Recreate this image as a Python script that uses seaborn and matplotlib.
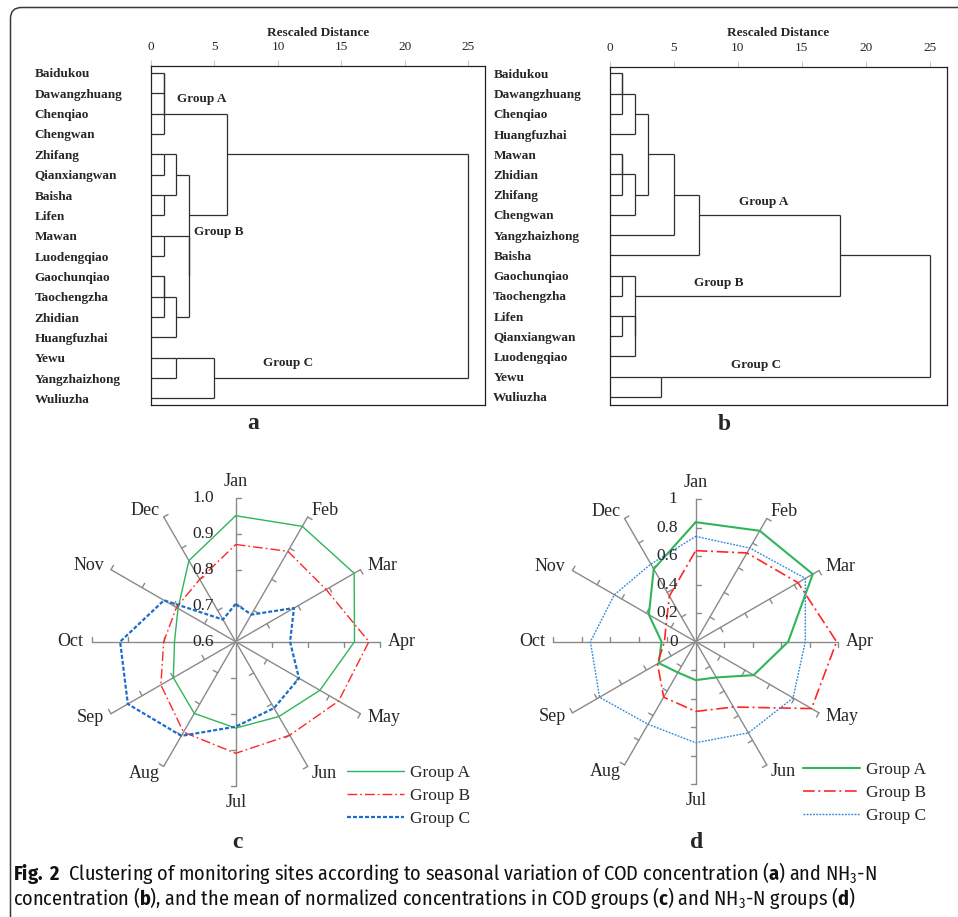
import numpy as np
import pandas as pd
import matplotlib
matplotlib.use('Agg')
import matplotlib.pyplot as plt
import seaborn as sns
from matplotlib import font_manager
from matplotlib.patches import FancyBboxPatch
from matplotlib.transforms import IdentityTransform

W, H = 958, 917

# ---- dendrogram a (COD) ----
leaves_cod = ['Baidukou', 'Dawangzhuang', 'Chenqiao', 'Chengwan', 'Zhifang', 'Qianxiangwan',
              'Baisha', 'Lifen', 'Mawan', 'Luodengqiao', 'Gaochunqiao', 'Taochengzha',
              'Zhidian', 'Huangfuzhai', 'Yewu', 'Yangzhaizhong', 'Wuliuzha']
# (child, child, rescaled distance) - an int refers to an earlier merge
merges_cod = [('Baidukou', 'Dawangzhuang', 1), (0, 'Chenqiao', 1), (1, 'Chengwan', 1),
              ('Zhifang', 'Qianxiangwan', 1), ('Baisha', 'Lifen', 1), (3, 4, 2),
              ('Mawan', 'Luodengqiao', 1), ('Gaochunqiao', 'Taochengzha', 1), (7, 'Zhidian', 1),
              (8, 'Huangfuzhai', 2), (6, 9, 3), (5, 10, 3), (2, 11, 6),
              ('Yewu', 'Yangzhaizhong', 2), (13, 'Wuliuzha', 5), (12, 14, 25)]

# ---- dendrogram b (NH3-N) ----
leaves_nh = ['Baidukou', 'Dawangzhuang', 'Chenqiao', 'Huangfuzhai', 'Mawan', 'Zhidian', 'Zhifang',
             'Chengwan', 'Yangzhaizhong', 'Baisha', 'Gaochunqiao', 'Taochengzha', 'Lifen',
             'Qianxiangwan', 'Luodengqiao', 'Yewu', 'Wuliuzha']
merges_nh = [('Baidukou', 'Dawangzhuang', 1), (0, 'Chenqiao', 1), (1, 'Huangfuzhai', 2),
             ('Mawan', 'Zhidian', 1), (3, 'Zhifang', 1), (4, 'Chengwan', 2), (2, 5, 3),
             (6, 'Yangzhaizhong', 5), (7, 'Baisha', 7),
             ('Gaochunqiao', 'Taochengzha', 1), ('Lifen', 'Qianxiangwan', 1), (10, 'Luodengqiao', 2),
             (9, 11, 2), (8, 12, 18), ('Yewu', 'Wuliuzha', 4), (13, 14, 25)]

dist_ticks = [0, 5, 10, 15, 20, 25]

# ---- radar data ----
months = ['Jan', 'Feb', 'Mar', 'Apr', 'May', 'Jun', 'Jul', 'Aug', 'Sep', 'Oct', 'Nov', 'Dec']
groups = ['Group A', 'Group B', 'Group C']

cod_a = [0.95, 0.97, 0.98, 0.93, 0.87, 0.84, 0.84, 0.83, 0.80, 0.77, 0.785, 0.86]
cod_b = [0.87, 0.89, 0.89, 0.97, 0.93, 0.90, 0.91, 0.89, 0.84, 0.80, 0.79, 0.80]
cod_c = [0.705, 0.687, 0.787, 0.751, 0.803, 0.813, 0.836, 0.902, 0.946, 0.921, 0.83, 0.671]
cod_ticks = [0.6, 0.7, 0.8, 0.9, 1.0]
cod_tick_labels = ['0.6', '0.7', '0.8', '0.9', '1.0']

nh_a = [0.84, 0.90, 0.95, 0.65, 0.47, 0.29, 0.27, 0.25, 0.30, 0.24, 0.38, 0.59]
nh_b = [0.64, 0.72, 0.83, 0.99, 0.94, 0.53, 0.49, 0.45, 0.31, 0.22, 0.24, 0.37]
nh_c = [0.74, 0.76, 0.89, 0.77, 0.79, 0.74, 0.71, 0.67, 0.78, 0.74, 0.66, 0.63]
nh_ticks = [0, 0.2, 0.4, 0.6, 0.8, 1.0]
nh_tick_labels = ['0', '0.2', '0.4', '0.6', '0.8', '1']

sns.set_style('white')
plt.rcParams['font.family'] = ['Liberation Serif', 'DejaVu Serif']

# caption font: a humanist sans with both regular and bold weights
weights = {}
for f in font_manager.fontManager.ttflist:
    if f.style == 'normal':
        weights.setdefault(f.name, set()).add(f.weight)
cap_font = 'DejaVu Sans'
for cand in ['Source Sans 3', 'Fira Sans Condensed', 'Roboto Condensed', 'PT Sans Narrow']:
    w = weights.get(cand, set())
    if any(x in w for x in (400, 'normal', 'regular')) and any(x in w for x in (700, 'bold')):
        cap_font = cand
        break
plt.rcParams['mathtext.fontset'] = 'custom'
plt.rcParams['mathtext.rm'] = cap_font
plt.rcParams['mathtext.bf'] = cap_font + ':bold'
plt.rcParams['mathtext.it'] = cap_font + ':italic'

fig = plt.figure(figsize=(W / 100, H / 100), dpi=100)


def rect(left, top, right, bottom):
    return [left / W, 1 - bottom / H, (right - left) / W, (bottom - top) / H]


line_col = '#2e2e2e'


def draw_dendrogram(ax, leaves, merges, ylim):
    nodes = []

    def info(c):
        if isinstance(c, str):
            return leaves.index(c), 0
        return nodes[c]

    for c1, c2, h in merges:
        (r1, h1), (r2, h2) = info(c1), info(c2)
        ax.hlines([r1, r2], [h1, h2], h, color=line_col, lw=0.9)
        ax.vlines(h, min(r1, r2), max(r1, r2), color=line_col, lw=0.9)
        nodes.append(((r1 + r2) // 2, h))

    ax.set_xlim(0, 26.3)
    ax.set_ylim(*ylim)
    ax.xaxis.tick_top()
    ax.xaxis.set_label_position('top')
    ax.set_xticks(dist_ticks)
    ax.set_xticklabels([str(t) for t in dist_ticks], fontsize=9.5)
    ax.set_xlabel('Rescaled Distance', fontsize=9.5, fontweight='bold', labelpad=4)
    ax.tick_params(axis='x', direction='out', length=4.5, width=0.8, color='#c8c8c8', pad=4.5)
    ax.set_yticks(range(len(leaves)))
    ax.set_yticklabels(leaves, fontsize=9.5, fontweight='bold', ha='left')
    ax.tick_params(axis='y', length=0, pad=83.7)
    for s in ax.spines.values():
        s.set_visible(True)
        s.set_color('#222222')
        s.set_linewidth(0.9)


ax_a = fig.add_axes(rect(151, 66, 485, 405))
draw_dendrogram(ax_a, leaves_cod, merges_cod, (16.32, -0.34))
ax_a.text(3.97, 1.28, 'Group A', fontsize=9.5, fontweight='bold', ha='center', va='center')
ax_a.text(5.3, 7.82, 'Group B', fontsize=9.5, fontweight='bold', ha='center', va='center')
ax_a.text(10.8, 14.26, 'Group C', fontsize=9.5, fontweight='bold', ha='center', va='center')

ax_b = fig.add_axes(rect(609.5, 66.5, 946.5, 405))
draw_dendrogram(ax_b, leaves_nh, merges_nh, (16.4, -0.34))
ax_b.text(12.0, 6.36, 'Group A', fontsize=9.5, fontweight='bold', ha='center', va='center')
ax_b.text(8.5, 10.37, 'Group B', fontsize=9.5, fontweight='bold', ha='center', va='center')
ax_b.text(11.4, 14.42, 'Group C', fontsize=9.5, fontweight='bold', ha='center', va='center')

spoke_col = '#8a8a8a'


def draw_radar(ax, series, styles, ticks, tick_labels, r_px, lab_dx, legend_xy):
    vmin, vmax = ticks[0], ticks[-1]
    theta = np.deg2rad(np.arange(12) * 30.0)
    sx, sy = np.sin(theta), np.cos(theta)
    tl = 5.0 / r_px
    for i in range(12):
        ax.plot([0, sx[i]], [0, sy[i]], color=spoke_col, lw=1.0, zorder=1)
        for v in ticks[1:]:
            u = (v - vmin) / (vmax - vmin)
            px, py = u * sx[i], u * sy[i]
            ax.plot([px, px + tl * np.cos(theta[i])], [py, py - tl * np.sin(theta[i])],
                    color=spoke_col, lw=1.0, zorder=1)
        off = 1 + 8.0 / r_px
        ha = 'left' if sx[i] > 0.2 else ('right' if sx[i] < -0.2 else 'center')
        va = 'bottom' if sy[i] > 0.9 else ('top' if sy[i] < -0.9 else 'center')
        ax.text(off * sx[i], off * sy[i], months[i], ha=ha, va=va, fontsize=13)
    for v, s in zip(ticks, tick_labels):
        u = (v - vmin) / (vmax - vmin)
        ax.text(-lab_dx / r_px, u, s, ha='right', va='center', fontsize=12.5, zorder=5)

    handles = []
    th = np.r_[theta, theta[0]]
    for name, vals in series.items():
        u = (np.r_[vals, vals[0]] - vmin) / (vmax - vmin)
        df = pd.DataFrame({'x': u * np.sin(th), 'y': u * np.cos(th)})
        sns.lineplot(data=df, x='x', y='y', sort=False, estimator=None, ax=ax,
                     legend=False, zorder=3, **styles[name])
        ln = ax.lines[-1]
        ln.set_label(name)
        handles.append(ln)

    half = 200.0 / r_px
    ax.set_xlim(-half, half)
    ax.set_ylim(-half, half)
    ax.axis('off')
    ax.legend(handles=handles, loc='upper left', bbox_to_anchor=(legend_xy[0] / W, 1 - legend_xy[1] / H),
              bbox_transform=fig.transFigure, frameon=False, fontsize=12.5, handlelength=3.3,
              handletextpad=0.35, labelspacing=0.4, borderpad=0, borderaxespad=0)


green, red = '#2fb55a', '#ff2626'
dashdot = (0, (7, 2.2, 1.2, 2.2))

styles_cod = {'Group A': dict(color=green, lw=1.0, linestyle='-'),
              'Group B': dict(color=red, lw=1.0, linestyle=dashdot),
              'Group C': dict(color='#1b6ec8', lw=1.6, linestyle=(0, (1.8, 0.9)))}
styles_nh = {'Group A': dict(color=green, lw=1.5, linestyle='-'),
             'Group B': dict(color=red, lw=1.2, linestyle=dashdot),
             'Group C': dict(color='#2c88d8', lw=1.0, linestyle=(0, (1.3, 1.0)))}

ax_c = fig.add_axes(rect(235.7 - 200, 641.7 - 200, 235.7 + 200, 641.7 + 200))
draw_radar(ax_c, dict(zip(groups, [cod_a, cod_b, cod_c])), styles_cod, cod_ticks, cod_tick_labels,
           144.0, 22, (347, 765))

ax_d = fig.add_axes(rect(695.7 - 200, 641.7 - 200, 695.7 + 200, 641.7 + 200))
draw_radar(ax_d, dict(zip(groups, [nh_a, nh_b, nh_c])), styles_nh, nh_ticks, nh_tick_labels,
           142.3, 18, (803, 762))

# panel letters
for s, x, y in [('a', 253, 423), ('b', 724, 425), ('c', 237, 842), ('d', 697, 843)]:
    fig.text(x / W, 1 - y / H, s, ha='center', va='center', fontsize=17, fontweight='bold')

# caption
line1 = (r'$\mathbf{Fig.\ 2}$  Clustering of monitoring sites according to seasonal variation of COD '
         r'concentration ($\mathbf{a}$) and NH$_{\mathrm{3}}$-N')
line2 = (r'concentration ($\mathbf{b}$), and the mean of normalized concentrations in COD groups '
         r'($\mathbf{c}$) and NH$_{\mathrm{3}}$-N groups ($\mathbf{d}$)')
t1 = fig.text(13 / W, 1 - 873 / H, line1, ha='left', va='center', fontsize=13.5, family=cap_font,
              color='#111111')
t2 = fig.text(13 / W, 1 - 898 / H, line2, ha='left', va='center', fontsize=13.5, family=cap_font,
              color='#111111')
renderer = fig.canvas.get_renderer()
bw = t1.get_window_extent(renderer).width
size = min(13.5 * 908 / bw, 14.5)
t1.set_fontsize(size)
t2.set_fontsize(size)

# rounded frame
frame = FancyBboxPatch((10.5, -40), 1100, H - 7.5 + 40, boxstyle='round,pad=0,rounding_size=11',
                       transform=IdentityTransform(), fill=False, edgecolor='#3a3a3a', lw=1.1)
fig.add_artist(frame)

fig.savefig('out.png', dpi=100)
